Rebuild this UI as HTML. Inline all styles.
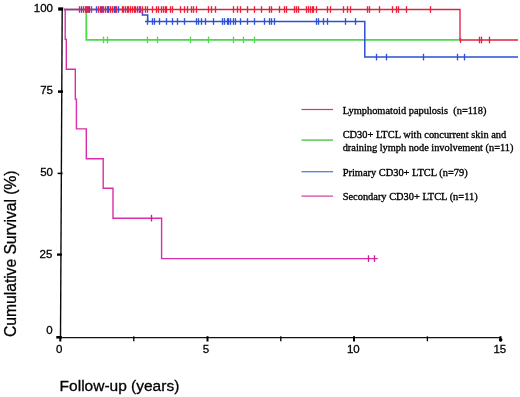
<!DOCTYPE html>
<html><head><meta charset="utf-8"><title>Cumulative Survival</title>
<style>
html,body{margin:0;padding:0;background:#fff;}
body{width:520px;height:397px;position:relative;overflow:hidden;font-family:"Liberation Sans",sans-serif;color:#000;}
svg{position:absolute;left:0;top:0;}
.t{position:absolute;white-space:nowrap;line-height:1;}
#txt{position:absolute;left:0;top:0;width:520px;height:397px;will-change:transform;}
.yl{font-size:11.5px;-webkit-text-stroke:0.3px #000;text-align:right;width:30px;left:23px;}
.xl{font-size:11.5px;-webkit-text-stroke:0.3px #000;text-align:center;width:30px;}
.lg{font-family:"Liberation Serif",serif;font-size:10.4px;left:342.7px;-webkit-text-stroke:0.33px #000;}
</style></head><body>
<svg width="520" height="397" viewBox="0 0 520 397">
<path d="M62.2 8 L60.5 338.2" stroke="#0a0a0a" stroke-width="1.4" fill="none"/><path d="M59.8 337.7 H501" stroke="#141414" stroke-width="1.3" fill="none"/><rect x="58.2" y="7.35" width="5.0" height="3.3" fill="#000"/><rect x="58.0" y="90.35" width="5.0" height="2.5" fill="#000"/><rect x="57.6" y="172.65" width="5.0" height="1.5" fill="#000"/><rect x="57.0" y="253.45" width="5.0" height="2.3" fill="#000"/><rect x="56.3" y="336.00" width="5.5" height="2.6" fill="#000"/><rect x="59.3" y="336.2" width="2.0" height="5.3" fill="#000"/><rect x="133.15" y="336.3" width="1.3" height="5" fill="#000"/><rect x="206.5" y="336.2" width="2.0" height="5.3" fill="#000"/><rect x="280.15" y="336.3" width="1.3" height="5" fill="#000"/><rect x="353.0" y="336.2" width="2.0" height="5.3" fill="#000"/><rect x="426.75" y="336.3" width="1.3" height="5" fill="#000"/><rect x="499.5" y="336.2" width="2.0" height="5.3" fill="#000"/><circle cx="500.7" cy="339.8" r="1.8" fill="#000"/><path d="M86.3 9.5 V40.8 M85.4 39.9 H460" stroke="#4cd94c" stroke-width="1.8" fill="none"/><path d="M103.5 36.6V43.2" stroke="#4cd94c" stroke-width="1.35"/><path d="M107.5 36.6V43.2" stroke="#4cd94c" stroke-width="1.35"/><path d="M147.5 36.6V43.2" stroke="#4cd94c" stroke-width="1.35"/><path d="M157.5 36.6V43.2" stroke="#4cd94c" stroke-width="1.35"/><path d="M190.5 36.6V43.2" stroke="#4cd94c" stroke-width="1.35"/><path d="M208.5 36.6V43.2" stroke="#4cd94c" stroke-width="1.35"/><path d="M233.5 36.6V43.2" stroke="#4cd94c" stroke-width="1.35"/><path d="M243.5 36.6V43.2" stroke="#4cd94c" stroke-width="1.35"/><path d="M254.5 36.6V43.2" stroke="#4cd94c" stroke-width="1.35"/><path d="M64 9.5 H142.4 V15 H147.7 V21.5 M145 21.5 H364.8 V57.1 H518" stroke="#2c50d6" stroke-width="1.5" fill="none"/><path d="M147.5 18.2V24.8" stroke="#2c50d6" stroke-width="1.35"/><path d="M152.5 18.2V24.8" stroke="#2c50d6" stroke-width="1.35"/><path d="M154.5 18.2V24.8" stroke="#2c50d6" stroke-width="1.35"/><path d="M159.5 18.2V24.8" stroke="#2c50d6" stroke-width="1.35"/><path d="M166.5 18.2V24.8" stroke="#2c50d6" stroke-width="1.35"/><path d="M172.5 18.2V24.8" stroke="#2c50d6" stroke-width="1.35"/><path d="M177.5 18.2V24.8" stroke="#2c50d6" stroke-width="1.35"/><path d="M184.5 18.2V24.8" stroke="#2c50d6" stroke-width="1.35"/><path d="M196.5 18.2V24.8" stroke="#2c50d6" stroke-width="1.35"/><path d="M198.5 18.2V24.8" stroke="#2c50d6" stroke-width="1.35"/><path d="M201.5 18.2V24.8" stroke="#2c50d6" stroke-width="1.35"/><path d="M205.5 18.2V24.8" stroke="#2c50d6" stroke-width="1.35"/><path d="M213.5 18.2V24.8" stroke="#2c50d6" stroke-width="1.35"/><path d="M222.5 18.2V24.8" stroke="#2c50d6" stroke-width="1.35"/><path d="M224.5 18.2V24.8" stroke="#2c50d6" stroke-width="1.35"/><path d="M227.5 18.2V24.8" stroke="#2c50d6" stroke-width="1.35"/><path d="M228.5 18.2V24.8" stroke="#2c50d6" stroke-width="1.35"/><path d="M230.5 18.2V24.8" stroke="#2c50d6" stroke-width="1.35"/><path d="M233.5 18.2V24.8" stroke="#2c50d6" stroke-width="1.35"/><path d="M235.5 18.2V24.8" stroke="#2c50d6" stroke-width="1.35"/><path d="M240.5 18.2V24.8" stroke="#2c50d6" stroke-width="1.35"/><path d="M247.5 18.2V24.8" stroke="#2c50d6" stroke-width="1.35"/><path d="M254.5 18.2V24.8" stroke="#2c50d6" stroke-width="1.35"/><path d="M264.5 18.2V24.8" stroke="#2c50d6" stroke-width="1.35"/><path d="M269.5 18.2V24.8" stroke="#2c50d6" stroke-width="1.35"/><path d="M271.5 18.2V24.8" stroke="#2c50d6" stroke-width="1.35"/><path d="M274.5 18.2V24.8" stroke="#2c50d6" stroke-width="1.35"/><path d="M316.5 18.2V24.8" stroke="#2c50d6" stroke-width="1.35"/><path d="M318.5 18.2V24.8" stroke="#2c50d6" stroke-width="1.35"/><path d="M323.5 18.2V24.8" stroke="#2c50d6" stroke-width="1.35"/><path d="M327.5 18.2V24.8" stroke="#2c50d6" stroke-width="1.35"/><path d="M345.5 18.2V24.8" stroke="#2c50d6" stroke-width="1.35"/><path d="M355.5 18.2V24.8" stroke="#2c50d6" stroke-width="1.35"/><path d="M376.5 53.8V60.4" stroke="#2c50d6" stroke-width="1.35"/><path d="M386.5 53.8V60.4" stroke="#2c50d6" stroke-width="1.35"/><path d="M423.5 53.8V60.4" stroke="#2c50d6" stroke-width="1.35"/><path d="M457.5 53.8V60.4" stroke="#2c50d6" stroke-width="1.35"/><path d="M464.5 53.8V60.4" stroke="#2c50d6" stroke-width="1.35"/><path d="M64 9.5 H460 V40.0 H518" stroke="#dc2440" stroke-width="1.35" fill="none"/><path d="M79.5 6.2V12.8" stroke="#ec1f38" stroke-width="1.35"/><path d="M83.5 6.2V12.8" stroke="#ec1f38" stroke-width="1.35"/><path d="M85.5 6.2V12.8" stroke="#ec1f38" stroke-width="1.35"/><path d="M86.5 6.2V12.8" stroke="#ec1f38" stroke-width="1.35"/><path d="M88.5 6.2V12.8" stroke="#ec1f38" stroke-width="1.35"/><path d="M98.5 6.2V12.8" stroke="#ec1f38" stroke-width="1.35"/><path d="M100.5 6.2V12.8" stroke="#ec1f38" stroke-width="1.35"/><path d="M103.5 6.2V12.8" stroke="#ec1f38" stroke-width="1.35"/><path d="M105.5 6.2V12.8" stroke="#ec1f38" stroke-width="1.35"/><path d="M107.5 6.2V12.8" stroke="#ec1f38" stroke-width="1.35"/><path d="M108.5 6.2V12.8" stroke="#ec1f38" stroke-width="1.35"/><path d="M110.5 6.2V12.8" stroke="#ec1f38" stroke-width="1.35"/><path d="M112.5 6.2V12.8" stroke="#ec1f38" stroke-width="1.35"/><path d="M114.5 6.2V12.8" stroke="#ec1f38" stroke-width="1.35"/><path d="M115.5 6.2V12.8" stroke="#ec1f38" stroke-width="1.35"/><path d="M116.5 6.2V12.8" stroke="#ec1f38" stroke-width="1.35"/><path d="M122.5 6.2V12.8" stroke="#ec1f38" stroke-width="1.35"/><path d="M123.5 6.2V12.8" stroke="#ec1f38" stroke-width="1.35"/><path d="M125.5 6.2V12.8" stroke="#ec1f38" stroke-width="1.35"/><path d="M127.5 6.2V12.8" stroke="#ec1f38" stroke-width="1.35"/><path d="M128.5 6.2V12.8" stroke="#ec1f38" stroke-width="1.35"/><path d="M130.5 6.2V12.8" stroke="#ec1f38" stroke-width="1.35"/><path d="M132.5 6.2V12.8" stroke="#ec1f38" stroke-width="1.35"/><path d="M134.5 6.2V12.8" stroke="#ec1f38" stroke-width="1.35"/><path d="M135.5 6.2V12.8" stroke="#ec1f38" stroke-width="1.35"/><path d="M137.5 6.2V12.8" stroke="#ec1f38" stroke-width="1.35"/><path d="M139.5 6.2V12.8" stroke="#ec1f38" stroke-width="1.35"/><path d="M142.5 6.2V12.8" stroke="#ec1f38" stroke-width="1.35"/><path d="M145.5 6.2V12.8" stroke="#ec1f38" stroke-width="1.35"/><path d="M147.5 6.2V12.8" stroke="#ec1f38" stroke-width="1.35"/><path d="M152.5 6.2V12.8" stroke="#ec1f38" stroke-width="1.35"/><path d="M156.5 6.2V12.8" stroke="#ec1f38" stroke-width="1.35"/><path d="M158.5 6.2V12.8" stroke="#ec1f38" stroke-width="1.35"/><path d="M161.5 6.2V12.8" stroke="#ec1f38" stroke-width="1.35"/><path d="M163.5 6.2V12.8" stroke="#ec1f38" stroke-width="1.35"/><path d="M165.5 6.2V12.8" stroke="#ec1f38" stroke-width="1.35"/><path d="M166.5 6.2V12.8" stroke="#ec1f38" stroke-width="1.35"/><path d="M170.5 6.2V12.8" stroke="#ec1f38" stroke-width="1.35"/><path d="M172.5 6.2V12.8" stroke="#ec1f38" stroke-width="1.35"/><path d="M180.5 6.2V12.8" stroke="#ec1f38" stroke-width="1.35"/><path d="M184.5 6.2V12.8" stroke="#ec1f38" stroke-width="1.35"/><path d="M187.5 6.2V12.8" stroke="#ec1f38" stroke-width="1.35"/><path d="M191.5 6.2V12.8" stroke="#ec1f38" stroke-width="1.35"/><path d="M193.5 6.2V12.8" stroke="#ec1f38" stroke-width="1.35"/><path d="M196.5 6.2V12.8" stroke="#ec1f38" stroke-width="1.35"/><path d="M208.5 6.2V12.8" stroke="#ec1f38" stroke-width="1.35"/><path d="M211.5 6.2V12.8" stroke="#ec1f38" stroke-width="1.35"/><path d="M215.5 6.2V12.8" stroke="#ec1f38" stroke-width="1.35"/><path d="M233.5 6.2V12.8" stroke="#ec1f38" stroke-width="1.35"/><path d="M237.5 6.2V12.8" stroke="#ec1f38" stroke-width="1.35"/><path d="M240.5 6.2V12.8" stroke="#ec1f38" stroke-width="1.35"/><path d="M247.5 6.2V12.8" stroke="#ec1f38" stroke-width="1.35"/><path d="M254.5 6.2V12.8" stroke="#ec1f38" stroke-width="1.35"/><path d="M261.5 6.2V12.8" stroke="#ec1f38" stroke-width="1.35"/><path d="M269.5 6.2V12.8" stroke="#ec1f38" stroke-width="1.35"/><path d="M271.5 6.2V12.8" stroke="#ec1f38" stroke-width="1.35"/><path d="M279.5 6.2V12.8" stroke="#ec1f38" stroke-width="1.35"/><path d="M284.5 6.2V12.8" stroke="#ec1f38" stroke-width="1.35"/><path d="M286.5 6.2V12.8" stroke="#ec1f38" stroke-width="1.35"/><path d="M294.5 6.2V12.8" stroke="#ec1f38" stroke-width="1.35"/><path d="M296.5 6.2V12.8" stroke="#ec1f38" stroke-width="1.35"/><path d="M298.5 6.2V12.8" stroke="#ec1f38" stroke-width="1.35"/><path d="M306.5 6.2V12.8" stroke="#ec1f38" stroke-width="1.35"/><path d="M308.5 6.2V12.8" stroke="#ec1f38" stroke-width="1.35"/><path d="M310.5 6.2V12.8" stroke="#ec1f38" stroke-width="1.35"/><path d="M312.5 6.2V12.8" stroke="#ec1f38" stroke-width="1.35"/><path d="M313.5 6.2V12.8" stroke="#ec1f38" stroke-width="1.35"/><path d="M316.5 6.2V12.8" stroke="#ec1f38" stroke-width="1.35"/><path d="M327.5 6.2V12.8" stroke="#ec1f38" stroke-width="1.35"/><path d="M330.5 6.2V12.8" stroke="#ec1f38" stroke-width="1.35"/><path d="M343.5 6.2V12.8" stroke="#ec1f38" stroke-width="1.35"/><path d="M347.5 6.2V12.8" stroke="#ec1f38" stroke-width="1.35"/><path d="M350.5 6.2V12.8" stroke="#ec1f38" stroke-width="1.35"/><path d="M367.5 6.2V12.8" stroke="#ec1f38" stroke-width="1.35"/><path d="M369.5 6.2V12.8" stroke="#ec1f38" stroke-width="1.35"/><path d="M379.5 6.2V12.8" stroke="#ec1f38" stroke-width="1.35"/><path d="M392.5 6.2V12.8" stroke="#ec1f38" stroke-width="1.35"/><path d="M396.5 6.2V12.8" stroke="#ec1f38" stroke-width="1.35"/><path d="M398.5 6.2V12.8" stroke="#ec1f38" stroke-width="1.35"/><path d="M406.5 6.2V12.8" stroke="#ec1f38" stroke-width="1.35"/><path d="M430.5 6.2V12.8" stroke="#ec1f38" stroke-width="1.35"/><path d="M81.5 6.2V12.8" stroke="#2c50d6" stroke-width="1.35"/><path d="M89.5 6.2V12.8" stroke="#2c50d6" stroke-width="1.35"/><path d="M96.5 6.2V12.8" stroke="#2c50d6" stroke-width="1.35"/><path d="M101.5 6.2V12.8" stroke="#2c50d6" stroke-width="1.35"/><path d="M108.5 6.2V12.8" stroke="#2c50d6" stroke-width="1.35"/><path d="M114.5 6.2V12.8" stroke="#2c50d6" stroke-width="1.35"/><path d="M118.5 6.2V12.8" stroke="#2c50d6" stroke-width="1.35"/><path d="M87.5 6.2V12.8" stroke="#9a3a9a" stroke-width="1.35"/><path d="M91.5 6.2V12.8" stroke="#9a3a9a" stroke-width="1.35"/><path d="M102.5 6.2V12.8" stroke="#9a3a9a" stroke-width="1.35"/><path d="M139.5 6.2V12.8" stroke="#9a3a9a" stroke-width="1.35"/><path d="M140.5 6.2V12.8" stroke="#9a3a9a" stroke-width="1.35"/><path d="M479.5 36.7V43.3" stroke="#ec1f38" stroke-width="1.35"/><path d="M481.5 36.7V43.3" stroke="#ec1f38" stroke-width="1.35"/><path d="M489.5 36.7V43.3" stroke="#ec1f38" stroke-width="1.35"/><path d="M460.5 38.0V43.0" stroke="#dc2440" stroke-width="1.35"/><path d="M64 9.5 H65.2 V39.4 H66.3 V69.2 H75.3 V99.1 H76.4 V128.9 H86.3 V158.8 H103.2 V188.3 H113 V218.2 H161.6 V258.6 H377.7" stroke="#d92eac" stroke-width="1.4" fill="none"/><path d="M151.5 214.9V221.5" stroke="#cc1f98" stroke-width="1.35"/><path d="M368.5 255.3V261.9" stroke="#cc1f98" stroke-width="1.35"/><path d="M374.5 255.3V261.9" stroke="#cc1f98" stroke-width="1.35"/><path d="M301.5 109.5 H333" stroke="#d63a55" stroke-width="1.2"/><path d="M301.5 140.1 H333" stroke="#5fc65a" stroke-width="1.5"/><path d="M301.5 171.7 H333" stroke="#3f7fe2" stroke-width="1.25"/><path d="M301.5 196.1 H333" stroke="#cf44a4" stroke-width="1.25"/>
</svg>
<div id="txt">
<div class="t yl" style="top:3.2px;">100</div>
<div class="t yl" style="top:85px;">75</div>
<div class="t yl" style="top:166.7px;">50</div>
<div class="t yl" style="top:249.3px;left:22.3px;">25</div>
<div class="t yl" style="top:325px;left:22.7px;">0</div>
<div class="t xl" style="left:44.1px;top:343.5px;">0</div>
<div class="t xl" style="left:191px;top:343.8px;">5</div>
<div class="t xl" style="left:338.3px;top:343.9px;">10</div>
<div class="t xl" style="left:484.8px;top:343.8px;">15</div>
<div class="t" id="xt" style="left:59.6px;top:377.7px;font-size:15.5px;-webkit-text-stroke:0.3px #000;">Follow-up (years)</div>
<div class="t" id="yt" style="left:2.5px;top:336.8px;font-size:15.8px;letter-spacing:-0.09px;-webkit-text-stroke:0.3px #000;transform-origin:0 0;transform:rotate(-90deg);">Cumulative Survival (%)</div>
<div class="t lg" id="l1" style="top:106px;">Lymphomatoid papulosis&nbsp; (n=118)</div>
<div class="t lg" id="l2" style="top:130.2px;">CD30+ LTCL with concurrent skin and</div>
<div class="t lg" id="l3" style="top:143px;font-size:10.33px;">draining lymph node involvement (n=11)</div>
<div class="t lg" id="l4" style="top:167.5px;">Primary CD30+ LTCL (n=79)</div>
<div class="t lg" id="l5" style="top:192px;">Secondary CD30+ LTCL (n=11)</div>
</div>
</body></html>
